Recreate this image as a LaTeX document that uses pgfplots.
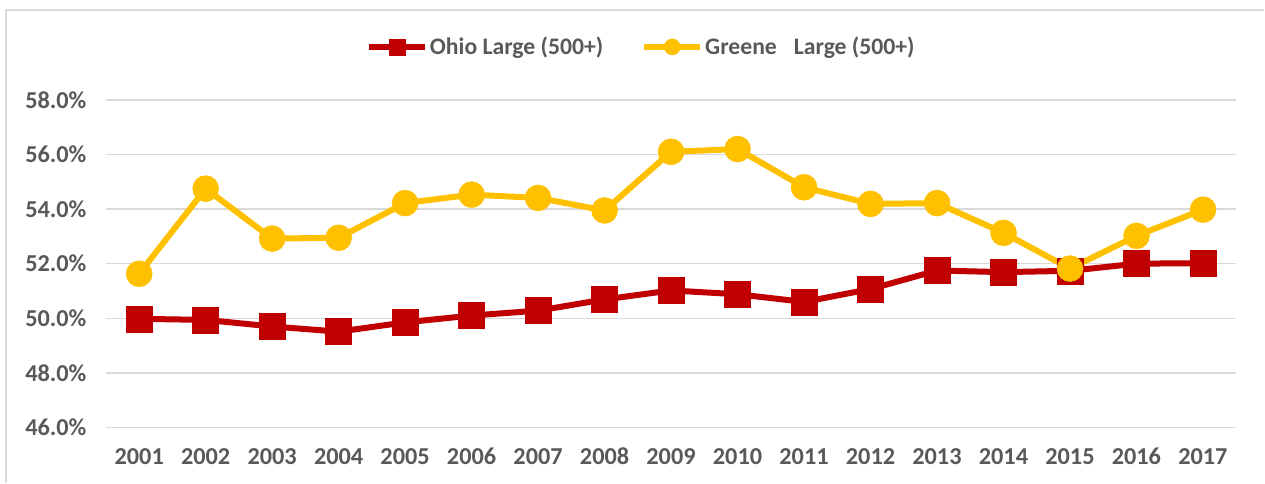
\documentclass[border=0pt]{standalone}
\usepackage{fontspec}
\setmainfont{Carlito}
\usepackage{pgfplots}
\pgfplotsset{compat=1.18}
\definecolor{ored}{HTML}{C00000}
\definecolor{gyel}{HTML}{FFC000}
\definecolor{gridc}{HTML}{D9D9D9}
\definecolor{txt}{HTML}{595959}
\begin{document}
\begin{tikzpicture}[x=1pt,y=1pt]
\path (0,0) rectangle (1265,483);
\draw[gridc, line width=1.5pt] (6,0) -- (6,473) -- (1265,473);
\begin{axis}[
  at={(106pt,55.3pt)}, anchor=south west,
  scale only axis, width=1131pt, height=327.7pt,
  xmin=2000.5, xmax=2017.5, ymin=46, ymax=58,
  axis line style={draw=none}, clip=false,
  ymajorgrids, grid style={gridc, line width=1.5pt},
  major tick length=0pt,
  xtick={2001,2002,...,2017},
  xticklabels={2001,2002,2003,2004,2005,2006,2007,2008,2009,2010,2011,2012,2013,2014,2015,2016,2017},
  ytick={46,48,...,58},
  yticklabels={46.0\%,48.0\%,50.0\%,52.0\%,54.0\%,56.0\%,58.0\%},
  tick label style={font=\fontsize{24.3}{28}\selectfont\bfseries, text=txt},
  yticklabel style={xshift=-16pt},
  xticklabel style={anchor=north, text height=15.5pt, text depth=0pt, yshift=-18pt},
  legend columns=2,
  legend style={at={(0.2299,1.162)}, anchor=west, draw=none, fill=none,
    font=\fontsize{23.7}{28}\selectfont\bfseries, text=txt,
    inner sep=0pt, nodes={inner sep=2pt},
    /tikz/every even column/.append style={column sep=36pt}},
  legend image code/.code={
    \draw[#1, mark repeat=2, mark phase=2, mark size=8pt] plot coordinates {(0pt,0pt) (28pt,0pt) (56pt,0pt)};
  },
]
\addplot[color=ored, line width=6pt, mark=square*, mark size=13pt, mark options={line width=0.5pt}]
coordinates {
(2001,49.98) (2002,49.94) (2003,49.70) (2004,49.51) (2005,49.85) (2006,50.10)
(2007,50.28) (2008,50.69) (2009,51.02) (2010,50.88) (2011,50.60) (2012,51.07)
(2013,51.75) (2014,51.69) (2015,51.74) (2016,52.00) (2017,52.02)
};
\addlegendentry{Ohio Large (500+)}
\addplot[color=gyel, line width=6pt, mark=*, mark size=13pt, mark options={line width=0.5pt}]
coordinates {
(2001,51.63) (2002,54.75) (2003,52.92) (2004,52.95) (2005,54.22) (2006,54.53)
(2007,54.41) (2008,53.95) (2009,56.10) (2010,56.20) (2011,54.80) (2012,54.19)
(2013,54.22) (2014,53.13) (2015,51.82) (2016,53.02) (2017,53.98)
};
\addlegendentry{Greene\hspace{17pt}Large (500+)}
\end{axis}
\end{tikzpicture}
\end{document}
